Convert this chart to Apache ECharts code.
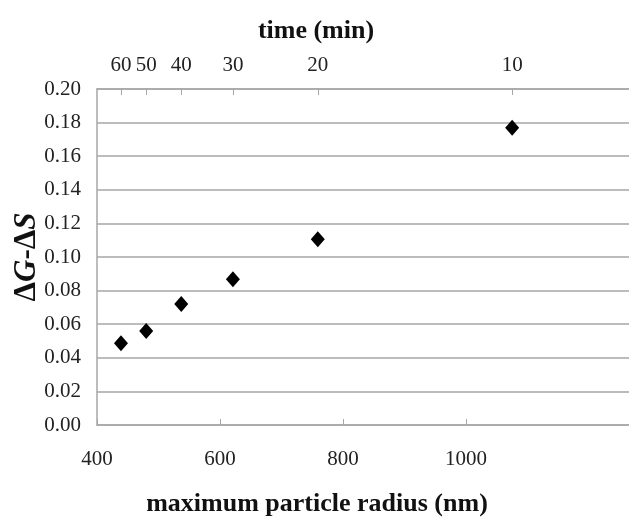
<!DOCTYPE html>
<html lang="en">
<head>
	<meta charset="UTF-8">
	<title>Document</title>
	<script src="https://cdn.jsdelivr.net/npm/echarts@6/dist/echarts.min.js"></script>
	<style>
		html, body { margin: 0; padding: 0; background: #fff; }
	</style>
</head>
<body>
	<div id="main" style="width:629px;height:517px;"></div>
	<script type="text/javascript">
        // data
        var radius = [439, 480, 537, 621, 759, 1075];
        var dGdS = [0.0486, 0.056, 0.072, 0.0867, 0.1105, 0.177];
        var times = [60, 50, 40, 30, 20, 10];
        var radiusTicks = [400, 600, 800, 1000];

        var points = radius.map(function (r, i) { return [r, dGdS[i]]; });
        var font = 'Liberation Serif';
        var grey = '#a6a6a6';

        var myChart = echarts.init(document.getElementById('main'));
        myChart.setOption({
            backgroundColor: '#fff',
            animation: false,
            title: [{
                text: 'time (min)',
                left: 311, top: 13, textAlign: 'center',
                textStyle: { fontFamily: font, fontSize: 26, fontWeight: 'bold', color: '#111' }
            }, {
                text: 'maximum particle radius (nm)',
                left: 312, top: 486, textAlign: 'center',
                textStyle: { fontFamily: font, fontSize: 26, fontWeight: 'bold', color: '#111' }
            }],
            grid: { left: 97, top: 89, right: 0, bottom: 92, containLabel: false, outerBoundsMode: 'none' },
            xAxis: [{
                type: 'value',
                position: 'bottom',
                min: 400,
                max: 1265,
                axisLine: { show: true, lineStyle: { color: grey, width: 1.5 } },
                axisTick: { show: true, inside: true, length: 6, customValues: radiusTicks, lineStyle: { color: grey } },
                axisLabel: {
                    customValues: radiusTicks, fontFamily: font, fontSize: 21, color: '#222', margin: 24,
                    formatter: function (v) { return String(v); }
                },
                splitLine: { show: false }
            }, {
                type: 'value',
                position: 'top',
                min: 400,
                max: 1265,
                axisLine: { show: true, onZero: false, lineStyle: { color: grey, width: 1.5 } },
                axisTick: { show: true, inside: true, length: 6, customValues: radius, lineStyle: { color: grey } },
                axisLabel: {
                    customValues: radius,
                    fontFamily: font, fontSize: 21, color: '#222', margin: 13,
                    formatter: function (v) {
                        var i = radius.indexOf(v);
                        return i >= 0 ? String(times[i]) : '';
                    }
                },
                splitLine: { show: false }
            }],
            yAxis: {
                type: 'value',
                min: 0,
                max: 0.2,
                interval: 0.02,
                name: '{d|Δ}{i|G}{d|-Δ}{i|S}',
                nameLocation: 'middle',
                nameGap: 55,
                nameMoveOverlap: false,
                nameRotate: 90,
                nameTextStyle: {
                    rich: {
                        d: { fontFamily: font, fontSize: 31, fontWeight: 'bold', color: '#111' },
                        i: { fontFamily: font, fontSize: 31, fontWeight: 'bold', fontStyle: 'italic', color: '#111' }
                    }
                },
                axisLine: { show: true, lineStyle: { color: grey, width: 1.5 } },
                axisTick: { show: false },
                axisLabel: {
                    fontFamily: font, fontSize: 21, color: '#222', margin: 16,
                    formatter: function (v) { return v.toFixed(2); }
                },
                splitLine: { show: true, lineStyle: { color: grey, width: 1.5 } }
            },
            series: [{
                type: 'scatter',
                xAxisIndex: 0,
                data: points,
                symbol: 'diamond',
                symbolSize: [14, 16],
                itemStyle: { color: '#000', opacity: 1 }
            }]
        });
    </script>
</body>
</html>
